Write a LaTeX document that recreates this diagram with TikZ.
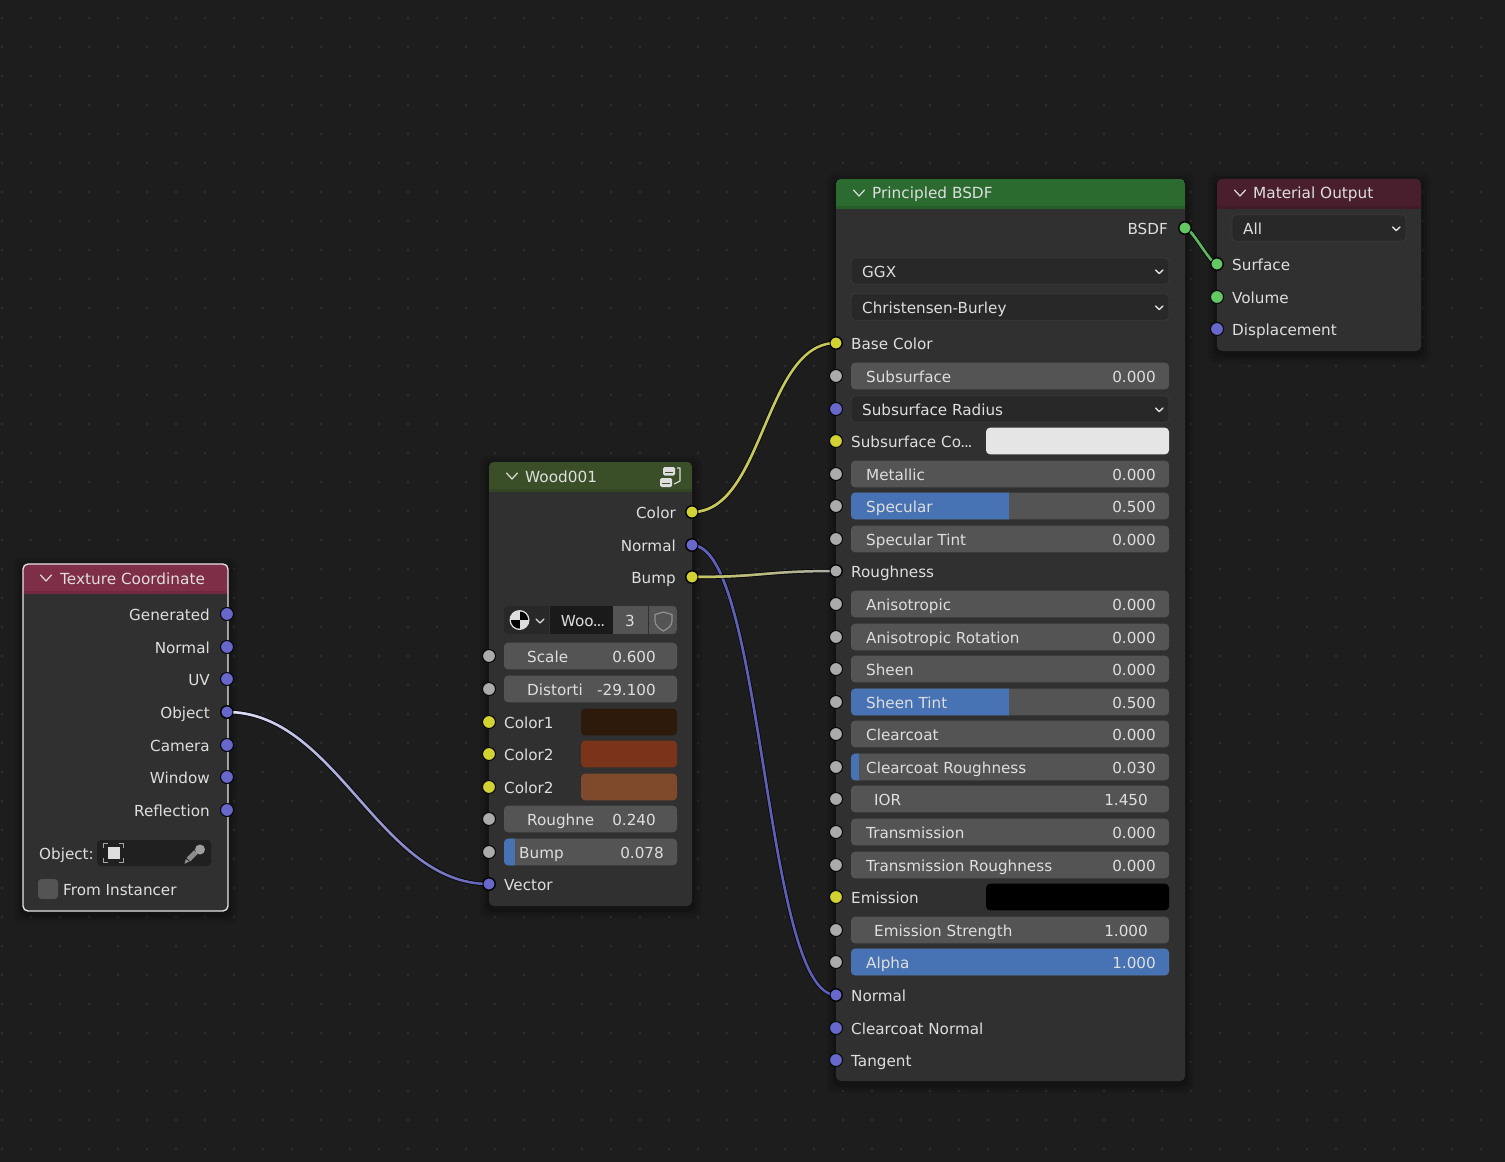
\documentclass[tikz,border=0pt]{standalone}
\usepackage{fontspec}
\setmainfont{DejaVu Sans}
\usetikzlibrary{fadings}
\definecolor{bg}{HTML}{1D1D1D}
\definecolor{griddot}{HTML}{2C2C2C}
\definecolor{body}{HTML}{303030}
\definecolor{txt}{HTML}{DEDEDE}
\definecolor{fld}{HTML}{545454}
\definecolor{dd}{HTML}{282828}
\definecolor{ddl}{HTML}{3A3A3A}
\definecolor{blu}{HTML}{4772B3}
\definecolor{sy}{HTML}{D2D232}
\definecolor{sg}{HTML}{ABABAB}
\definecolor{sb}{HTML}{6868CC}
\definecolor{sgr}{HTML}{63C763}
\definecolor{wy}{HTML}{C8C85A}
\definecolor{wb}{HTML}{5F5FB8}
\definecolor{wgr}{HTML}{5CB860}
\definecolor{hTex}{HTML}{7F2E47}
\definecolor{hWood}{HTML}{3A4F28}
\definecolor{hBsdf}{HTML}{2B6B30}
\definecolor{hOut}{HTML}{4A1F2D}
\definecolor{cA}{HTML}{2E1A0A}
\definecolor{cB}{HTML}{7A3419}
\definecolor{cC}{HTML}{7E4A2B}
\newcounter{lb}
\newcommand{\dotz}{\kern-.8pt.\kern-1.1pt.\kern-1.1pt.}
\tikzset{
  sock/.style={circle,draw=black!80!bg,line width=1pt,inner sep=0pt,minimum size=13pt},
  wtext/.style={text=txt,inner sep=0pt,font=\fontsize{15.2}{18}\selectfont},
  ttext/.style={text=txt,inner sep=0pt,font=\fontsize{15.3}{18}\selectfont},
  chev/.style={draw=txt,line width=1.2pt,line cap=round,line join=round},
  wirecase/.style={draw=black!75!bg,line width=4.2pt},
  wireline/.style={line width=2.5pt,line cap=round},
}
% \lab{x}{y}{anchor}{text}
\newcommand{\lab}[4]{\stepcounter{lb}\node[wtext,anchor=base #3] (lb\thelb) at (#1,#2+6.1) {#4};}
% body x1 y1 x2 y2 header color
\newcommand{\nbody}[6][]{%
  \foreach \e/\o in {9/.07,6/.1,3/.15}{\fill[black,opacity=\o,rounded corners=7pt] (#2-\e,#3-\e+3) rectangle (#4+\e,#5+\e+3);}
  \fill[body,rounded corners=5pt] (#2,#3) rectangle (#4,#5);
  \begin{scope}
    \clip[rounded corners=5pt] (#2,#3) rectangle (#4,#5);
    \fill[#6!88!black] (#2,#3) rectangle (#4,#3+29.5);
    \fill[#6] (#2,#3) rectangle (#4,#3+27);
  \end{scope}
  \draw[#1,rounded corners=5pt] (#2,#3) rectangle (#4,#5);
  \draw[chev] (#2+17.5,#3+11) -- (#2+23,#3+17) -- (#2+28.5,#3+11);
}
\newcommand{\ttl}[3]{\stepcounter{lb}\node[ttext,anchor=base west] (lb\thelb) at (#1,#2+6.1) {#3};}
% slider x1 x2 y label value fillend labelx valuex
\newcommand{\slid}[8]{%
  \fill[fld,rounded corners=4pt] (#1,#3-13.3) rectangle (#2,#3+13.3);
  \begin{scope}
    \clip[rounded corners=4pt] (#1,#3-13.3) rectangle (#2,#3+13.3);
    \fill[blu] (#1,#3-14) rectangle (#6,#3+14);
  \end{scope}
  \lab{#7}{#3}{west}{#4}
  \lab{#8}{#3}{east}{#5}
}
\newcommand{\ddown}[4]{%
  \draw[fill=dd,draw=ddl,line width=.8pt,rounded corners=4pt] (#1,#3-13.3) rectangle (#2,#3+13.3);
  \lab{#1+11}{#3}{west}{#4}
  \draw[chev,line width=1.4pt] (#2-13.5,#3-1) -- (#2-9.8,#3+2.5) -- (#2-6,#3-1);
}
\newcommand{\swatch}[4]{\fill[#4,rounded corners=4pt] (#1,#3-13.3) rectangle (#2,#3+13.3);}
\newcommand{\wire}[5]{% from to col1 col2 h
  \draw[wirecase] (#1) .. controls +(#5,0) and +(-#5,0) .. (#2);
  \draw[wireline,#4] (#1) .. controls +(#5,0) and +(-#5,0) .. (#2);
  \draw[wireline,#3,path fading=east] (#1) .. controls +(#5,0) and +(-#5,0) .. (#2);
}
\begin{document}
\begin{tikzpicture}[x=1pt,y=-1pt,line join=round]
\useasboundingbox (0,0) rectangle (1505,1162);
\fill[bg] (0,0) rectangle (1505,1162);
\foreach \i in {0,...,51}{\foreach \j in {0,...,39}{
  \fill[griddot] (2+29*\i,18+29*\j) circle (1.7pt);}}

% ---------- Texture Coordinate
\nbody[draw=white!90!black,line width=1.3pt]{23}{564}{228}{911}{hTex}
\ttl{60}{578}{Texture Coordinate}
\foreach \n/\y in {Generated/614,Normal/647,UV/679,Object/712,Camera/745,Window/777,Reflection/810}{
  \lab{210}{\y}{east}{\n}}
\lab{39}{853}{west}{Object:}
\fill[dd!80!black,rounded corners=4pt] (97,840) rectangle (211,866);
% object icon
\fill[txt] (107.5,847) rectangle (119.5,859);
\draw[txt!70!dd,line width=1.1pt] (103.5,848) -- (103.5,843.5) -- (108,843.5) (119,843.5) -- (123.5,843.5) -- (123.5,848) (123.5,858) -- (123.5,862.5) -- (119,862.5) (108,862.5) -- (103.5,862.5) -- (103.5,858);
% eyedropper icon
\draw[txt!55!dd,line width=5pt] (188.5,859.5) -- (196,852);
\fill[txt!55!dd] (186,863) -- (184.5,864) -- (185.8,859) -- (189.5,861.5) -- cycle;
\fill[txt!65!dd] (200,849.5) circle (5pt);

\fill[fld,rounded corners=3.5pt] (38,879) rectangle (58,899);
\lab{63}{889}{west}{From Instancer}

% ---------- Wood001
\nbody[draw=none]{489}{462}{692}{906}{hWood}
\ttl{525}{476}{Wood001}
% node group icon
\fill[txt,rounded corners=1.5pt] (663,467) rectangle (675,475.5);
\fill[hWood] (665,471.5) rectangle (673,472.7);
\fill[txt,rounded corners=1.5pt] (660,478) rectangle (672,487);
\fill[hWood] (662,482.5) rectangle (670,483.7);
\draw[txt,line width=1.1pt] (677,468) -- (680,468) -- (680,481) -- (674,484);
\foreach \n/\y in {Color/512,Normal/545,Bump/577}{\lab{676}{\y}{east}{\n}}
% data-block selector
\begin{scope}
 \clip[rounded corners=4pt] (504,606) rectangle (677,634);
 \fill[dd] (504,606) rectangle (549,634);
 \fill[black!35!dd] (550,606) rectangle (613,634);
 \fill[fld] (613,606) rectangle (648,634);
 \fill[fld] (649,606) rectangle (677,634);
\end{scope}
\fill[txt] (519.5,620) circle (10pt);
\begin{scope}
\clip (519.5,620) circle (8.6pt);
\fill[black!85!bg] (519.5,610) rectangle (530,620);
\fill[black!85!bg] (509,620) rectangle (519.5,631);
\end{scope}
\draw[chev,line width=1.3pt] (536,619) -- (540,623) -- (544,619);
\lab{583}{620}{}{Woo\dotz}
\lab{630}{620}{}{3}
\draw[draw=txt!45!fld,line width=1.2pt] (655,614.5) -- (663.5,612) -- (672,614.5) -- (672,621) .. controls (672,626) and (667,629) .. (663.5,631) .. controls (660,629) and (655,626) .. (655,621) -- cycle;
\slid{504}{677}{656}{Scale}{0.600}{504}{527}{656}
\slid{504}{677}{689}{Distorti}{-29.100}{504}{527}{656}
\lab{504}{722}{west}{Color1}
\lab{504}{754}{west}{Color2}
\lab{504}{787}{west}{Color2}
\swatch{581}{677}{722}{cA}
\swatch{581}{677}{754}{cB}
\swatch{581}{677}{787}{cC}
\slid{504}{677}{819}{Roughne}{0.240}{504}{527}{656}
\slid{504}{677}{852}{Bump}{0.078}{515}{519}{664}
\lab{504}{884}{west}{Vector}

% ---------- Principled BSDF
\nbody[draw=none]{836}{179}{1185}{1081}{hBsdf}
\ttl{872}{192}{Principled BSDF}
\lab{1168}{228}{east}{BSDF}
\ddown{851}{1169}{271}{GGX}
\ddown{851}{1169}{307}{Christensen-Burley}
\lab{851}{343}{west}{Base Color}
\slid{851}{1169}{376}{Subsurface}{0.000}{851}{866}{1156}
\ddown{851}{1169}{409}{Subsurface Radius}
\lab{851}{441}{west}{Subsurface Co\dotz}
\swatch{986}{1169}{441}{white!90!black}
\slid{851}{1169}{474}{Metallic}{0.000}{851}{866}{1156}
\slid{851}{1169}{506}{Specular}{0.500}{1009}{866}{1156}
\slid{851}{1169}{539}{Specular Tint}{0.000}{851}{866}{1156}
\lab{851}{571}{west}{Roughness}
\slid{851}{1169}{604}{Anisotropic}{0.000}{851}{866}{1156}
\slid{851}{1169}{637}{Anisotropic Rotation}{0.000}{851}{866}{1156}
\slid{851}{1169}{669}{Sheen}{0.000}{851}{866}{1156}
\slid{851}{1169}{702}{Sheen Tint}{0.500}{1009}{866}{1156}
\slid{851}{1169}{734}{Clearcoat}{0.000}{851}{866}{1156}
\slid{851}{1169}{767}{Clearcoat Roughness}{0.030}{858.5}{866}{1156}
\slid{851}{1169}{799}{IOR}{1.450}{851}{874}{1148}
\slid{851}{1169}{832}{Transmission}{0.000}{851}{866}{1156}
\slid{851}{1169}{865}{Transmission Roughness}{0.000}{851}{866}{1156}
\lab{851}{897}{west}{Emission}
\swatch{986}{1169}{897}{black}
\slid{851}{1169}{930}{Emission Strength}{1.000}{851}{874}{1148}
\slid{851}{1169}{962}{Alpha}{1.000}{1170}{866}{1156}
\lab{851}{995}{west}{Normal}
\lab{851}{1028}{west}{Clearcoat Normal}
\lab{851}{1060}{west}{Tangent}

% ---------- Material Output
\nbody[draw=none]{1217}{179}{1421}{351}{hOut}
\ttl{1253}{192}{Material Output}
\ddown{1232}{1406}{228}{All}
\lab{1232}{264}{west}{Surface}
\lab{1232}{297}{west}{Volume}
\lab{1232}{329}{west}{Displacement}

% ---------- sockets
\foreach \n/\y in {tcG/614,tcN/647,tcU/679,tcO/712,tcC/745,tcW/777,tcR/810}{\node[sock,fill=sb] (\n) at (227,\y) {};}
\node[sock,fill=sy] (wColor) at (692,512) {};
\node[sock,fill=sb] (wNorm) at (692,545) {};
\node[sock,fill=sy] (wBump) at (692,577) {};
\foreach \n/\y/\c in {a/656/sg,b/689/sg,c/722/sy,d/754/sy,e/787/sy,f/819/sg,g/852/sg,h/884/sb}{\node[sock,fill=\c] (w\n) at (489,\y) {};}
\node[sock,fill=sgr] (pOut) at (1185,228) {};
\foreach \n/\y/\c in {a/343/sy,b/376/sg,c/409/sb,d/441/sy,e/474/sg,f/506/sg,g/539/sg,h/571/sg,i/604/sg,j/637/sg,k/669/sg,l/702/sg,m/734/sg,n/767/sg,o/799/sg,p/832/sg,q/865/sg,r/897/sy,s/930/sg,t/962/sg,u/995/sb,v/1028/sb,w/1060/sb}{\node[sock,fill=\c] (p\n) at (836,\y) {};}
\foreach \n/\y/\c in {a/264/sgr,b/297/sgr,c/329/sb}{\node[sock,fill=\c] (m\n) at (1217,\y) {};}

% ---------- wires (socket centres; socket faces redrawn on top)
\wire{tcO.center}{wh.center}{white!85!wb}{wb}{110}
\wire{wColor.center}{pa.center}{wy}{wy}{72}
\wire{wNorm.center}{pu.center}{wb}{wb}{72}
\wire{wBump.center}{ph.center}{wy}{sg}{72}
\wire{pOut.center}{ma.center}{wgr}{wgr}{7}
\foreach \n/\c in {tcO/sb,wColor/sy,wNorm/sb,wBump/sy,wh/sb,pa/sy,pu/sb,ph/sg,pOut/sgr,ma/sgr}{
  \draw[fill=\c,draw=black!80!bg,line width=1pt] (\n.center) circle (6pt);}
\end{tikzpicture}
\end{document}
